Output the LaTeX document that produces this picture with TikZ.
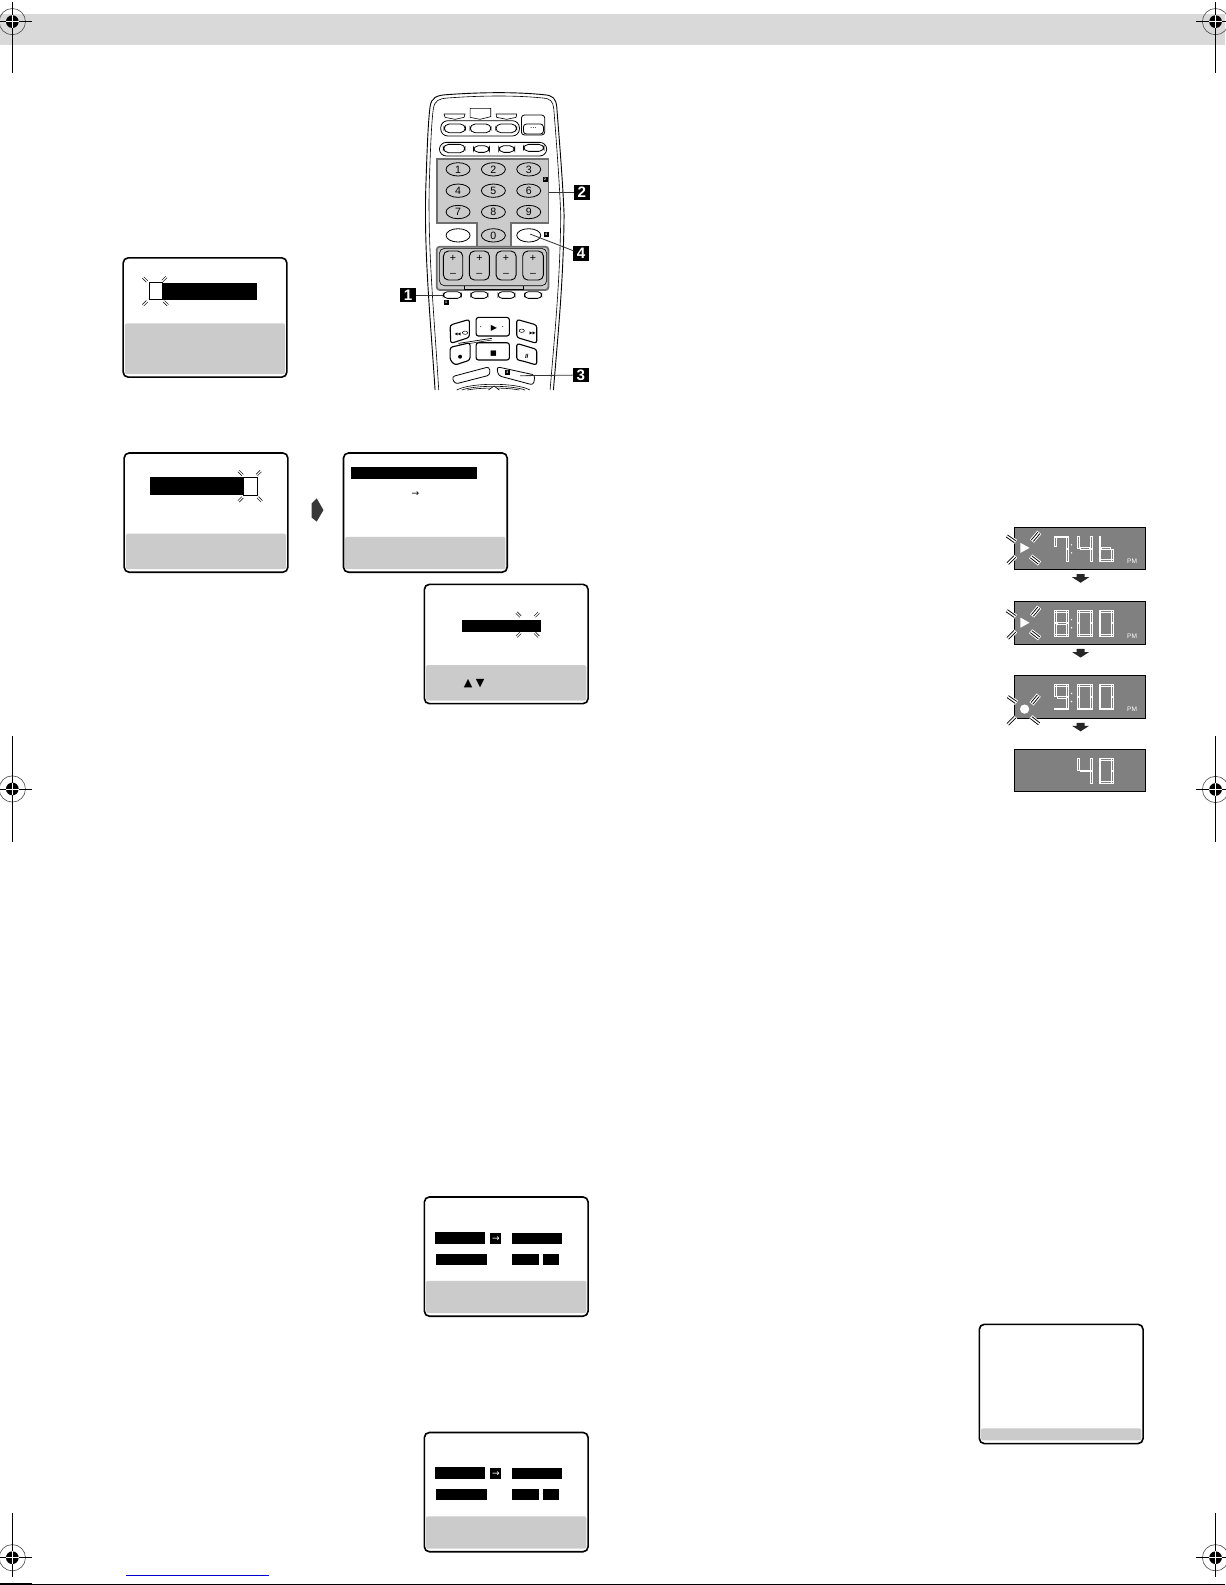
\documentclass[tikz,border=0pt]{standalone}
\usepackage{fontspec}
\setmainfont{Liberation Sans}
\newfontfamily\djv{DejaVu Sans}
\usetikzlibrary{calc}
\definecolor{band}{HTML}{D9D9D9}
\definecolor{panelgray}{HTML}{CBCBCB}
\definecolor{paneledge}{HTML}{6E6E6E}
\definecolor{lcdgray}{HTML}{808080}
\definecolor{linkblue}{HTML}{0000CC}
\tikzset{
  screenbox/.style={draw=black,line width=1.6pt,rounded corners=5pt},
  graypart/.style={fill=panelgray,rounded corners=2pt},
  barblk/.style={fill=black},
  whitesq/.style={draw=black,line width=1pt,fill=white},
  tickline/.style={line width=.6pt,black!85},
  lcdbox/.style={draw=black,line width=.9pt,fill=lcdgray},
  segline/.style={draw=white,line width=.4pt},
  rbtn/.style={draw=black,line width=.8pt,fill=white,rounded corners=3pt},
  rbtnfree/.style={draw=black,line width=.8pt,rounded corners=3pt},
  rkey/.style={draw=black,line width=.8pt,fill=white},
  tbtn/.style={draw=black,line width=1.1pt,fill=white,rounded corners=2.5pt},
  panelfill/.style={fill=panelgray,draw=paneledge,line width=1.8pt},
  keytext/.style={font=\fontsize{10.5}{11}\selectfont,inner sep=0pt},
  bigbadge/.style={fill=black,text=white,font=\bfseries\fontsize{15}{15}\selectfont,minimum width=15.5pt,minimum height=14.5pt,inner sep=0pt},
  tinybadge/.style={fill=black,text=white,font=\bfseries\fontsize{3.5}{4}\selectfont,minimum width=5pt,minimum height=5pt,inner sep=0pt},
  leader/.style={line width=.8pt,black!80},
  pmtext/.style={text=white,font=\fontsize{6.5}{7}\selectfont,inner sep=0pt},
}
\newcommand\regfull[6]{%
  \fill[black] (#1,#2) circle[radius=6.3];
  \draw[line width=.6pt,black!70] (#1,#2) circle[radius=13];
  \draw[line width=.9pt,black] (#3,#2) -- (#4,#2);
  \draw[line width=.9pt,black] (#1,#5) -- (#1,#6);
  \draw[line width=.6pt,white] ({#1-6.3},#2) -- ({#1+6.3},#2);
  \draw[line width=.6pt,white] (#1,{#2-6.3}) -- (#1,{#2+6.3});
}
\newcommand\tvscreen[5]{% name x y graytop graybottom
  \fill[graypart] ({#2+1.5},#4) rectangle ({#2+160},#5);
  \node[screenbox,minimum width=162pt,minimum height=118pt,inner sep=0pt,anchor=north west] (#1) at ({#2-1},{#3-.7}) {};
}
\newcommand\tick[3]{%
  \begin{scope}[shift={(#1,#2)},rotate=#3]
    \draw[tickline] (-2.8,-1) -- (2.8,-1);
    \draw[tickline] (-2.8,1) -- (2.8,1);
  \end{scope}
}
\newcommand\lcdtick[3]{%
  \begin{scope}[shift={(#1,#2)},rotate=#3]
    \draw[line width=5.2pt,white] (-5.6,0) -- (5.6,0);
    \draw[line width=3.2pt,black] (-5,0) -- (5,0);
    \draw[line width=1.4pt,white] (-5.4,0) -- (5.4,0);
  \end{scope}
}
\def\dgseven{0/0/14/1.8,12.2/0/14/12,12.2/13/14/25,0/0/1.8/10}
\def\dgfour{0/0/1.8/12,2.5/11.7/11.5/13.3,12.2/0/14/12,12.2/13/14/25}
\def\dgb{0/0/1.8/12,2.5/11.7/11.5/13.3,12.2/13/14/25,0/23.2/14/25,0/13/1.8/25}
\def\dgeight{0/0/14/1.8,12.2/0/14/12,12.2/13/14/25,0/23.2/14/25,0/13/1.8/25,0/0/1.8/12,2.5/11.7/11.5/13.3}
\def\dgzero{0/0/14/1.8,12.2/0/14/12,12.2/13/14/25,0/23.2/14/25,0/13/1.8/25,0/0/1.8/12}
\def\dgnine{0/0/14/1.8,12.2/0/14/12,12.2/13/14/25,0/23.2/14/25,0/0/1.8/12,2.5/11.7/11.5/13.3}
\newcommand\lcddigit[3]{% x y list
  \begin{scope}[shift={(#1,#2)}]
    \foreach \ax/\ay/\bx/\by in #3 {\draw[segline] (\ax,\ay) rectangle (\bx,\by);}
  \end{scope}
}
\newcommand\lcdtime[6]{% name x y d1 d2 d3
  \node[lcdbox,minimum width=129pt,minimum height=42pt,inner sep=0pt,anchor=north west] (#1) at ({#2-.5},#3) {};
  \lcddigit{#2+39}{#3+9}{#4}
  \fill[white] ({#2+56},{#3+18}) circle[radius=.8];
  \fill[white] ({#2+56},{#3+26}) circle[radius=.8];
  \lcddigit{#2+62}{#3+9}{#5}
  \lcddigit{#2+83}{#3+9}{#6}
  \node[pmtext] at ({#2+116},{#3+34}) {PM};
}
\newcommand\playsparks[2]{%
  \fill[white] ({#1+5.5},{#2+16}) -- ({#1+14.5},{#2+21}) -- ({#1+5.5},{#2+26}) -- cycle;
  \lcdtick{#1-4}{#2+12}{-35}
  \lcdtick{#1+20.5}{#2+10}{50}
  \lcdtick{#1-3.5}{#2+33}{45}
  \lcdtick{#1+20}{#2+33}{-38}
}
\newcommand\lcdarrow[2]{%
  \fill[black!85] ({#1-4},#2) -- ({#1+4},#2) -- ({#1+4},{#2+3}) -- ({#1+8.5},{#2+3}) -- (#1,{#2+8.5}) -- ({#1-8.5},{#2+3}) -- ({#1-4},{#2+3}) -- cycle;
}
\newcommand\dualrows[1]{% y offset
  \fill[barblk] (430,{#1+1219}) rectangle (480,{#1+1230.5});
  \node[fill=black,text=white,inner sep=0pt,minimum width=11pt,minimum height=11pt,font=\djv\fontsize{9}{9}\selectfont] at (490.5,{#1+1225.5}) {→};
  \fill[barblk] (506.5,{#1+1220}) rectangle (556,{#1+1230.5});
  \fill[barblk] (431,{#1+1241}) rectangle (482,{#1+1251.5});
  \fill[barblk] (506.5,{#1+1241}) rectangle (533.5,{#1+1251.5});
  \fill[barblk] (537,{#1+1241}) rectangle (553,{#1+1251.5});
}
\begin{document}
\begin{tikzpicture}[x=1pt,y=-1pt]
\useasboundingbox (0,0) rectangle (1212,1568);
\fill[white] (0,0) rectangle (1212,1568);
% header band
\fill[band] (0,13.9) rectangle (1212,44.5);
% registration marks
\regfull{12.2}{21.4}{-1}{32}{2}{72}
\regfull{1202.5}{21.4}{1183}{1213}{2}{72}
\regfull{12.2}{780.5}{-1}{32}{728}{833}
\regfull{1202.5}{781}{1183}{1213}{728}{833}
\regfull{12.2}{1541}{-1}{32}{1497}{1560}
\regfull{1202.5}{1541}{1183}{1213}{1497}{1560}
% footer
\draw[line width=.8pt,black] (0,1567) -- (1212,1567);
\draw[line width=1.6pt,black] (0,1566.6) -- (32,1566.6);
\draw[line width=.9pt,linkblue] (125,1558.4) -- (266,1558.4);

% ---- screen 1
\tvscreen{sa}{122}{255}{320}{370}
\fill[barblk] (160,280.3) rectangle (254,296.8);
\draw[whitesq] (147.7,279.3) rectangle (161,296.5);
\tick{143.5}{276.5}{-45}\tick{162.6}{276}{45}\tick{143.5}{300}{45}\tick{164}{300}{-45}
% ---- screen 2
\tvscreen{sb}{123}{448}{528}{563}
\fill[barblk] (148,472) rectangle (241,490);
\draw[whitesq] (241,472) rectangle (254.5,490);
\tick{238}{468}{-45}\tick{256}{468}{45}\tick{238}{494}{45}\tick{257}{494}{-45}
% arrow between
\fill[black!78] (308.3,498) -- (313.3,493) -- (320,504.6) -- (313.3,516) -- (308.3,512) -- cycle;
% ---- screen 3
\tvscreen{sc}{340}{448}{531}{563}
\fill[barblk] (347,462) rectangle (472,473.5);
\node[inner sep=0pt,font=\djv\fontsize{9}{9}\selectfont] (scarrow) at (411,488.5) {→};
% ---- screen 4
\tvscreen{sd}{420}{578}{658}{693}
\fill[barblk] (457,613) rectangle (535,625);
\tick{513}{608}{-45}\tick{531}{608}{45}\tick{513}{628}{45}\tick{531}{628}{-45}
\node[inner sep=0pt,font=\djv\fontsize{11}{11}\selectfont] (sdup) at (463,676) {▲};
\node[inner sep=0pt,font=\djv\fontsize{11}{11}\selectfont] (sddn) at (475,676) {▼};
% ---- screen 5, 6
\tvscreen{se}{420}{1184}{1267}{1299}
\dualrows{0}
\tvscreen{sf}{420}{1417}{1500}{1532}
\dualrows{232.5}
% ---- screen 7
\tvscreen{sg}{969}{1310}{1413}{1425}

% ---- LCDs
\lcdtime{la}{1004}{521}{\dgseven}{\dgfour}{\dgb}
\playsparks{1004}{521}
\lcdarrow{1069}{568}
\lcdtime{lb}{1004}{595}{\dgeight}{\dgzero}{\dgzero}
\playsparks{1004}{595}
\lcdarrow{1069}{642}
\lcdtime{lc}{1004}{668}{\dgnine}{\dgzero}{\dgzero}
\fill[white] (1013.6,701.5) circle[radius=4.6];
\lcdtick{1001}{692}{-35}
\lcdtick{1024}{692}{50}
\lcdtick{1000.5}{713}{45}
\lcdtick{1024}{713}{-38}
\lcdarrow{1069}{715}
\node[lcdbox,minimum width=129pt,minimum height=42pt,inner sep=0pt,anchor=north west] (ld) at (1003.5,741) {};
\lcddigit{1066}{750}{\dgfour}
\lcddigit{1087}{750}{\dgzero}

% ---- remote control (coordinates of a 3x crop)
\begin{scope}[shift={(385.87,79.15)},scale=0.3298]
  % body outline
  \draw[line width=.9pt] (135,930) .. controls (120,700) and (100,500) .. (108,300)
     .. controls (112,180) and (115,120) .. (120,80)
     .. controls (124,52) and (140,46) .. (170,44)
     .. controls (280,36) and (380,36) .. (460,44)
     .. controls (490,46) and (497,56) .. (500,80)
     .. controls (506,160) and (518,300) .. (522,405)
     .. controls (520,600) and (505,750) .. (490,930);
  \draw[line width=.6pt] (146,930) .. controls (132,700) and (112,500) .. (118,300)
     .. controls (122,180) and (125,120) .. (130,85)
     .. controls (134,62) and (146,56) .. (172,54)
     .. controls (280,46) and (380,46) .. (458,54)
     .. controls (482,56) and (488,64) .. (491,85)
     .. controls (497,160) and (508,300) .. (512,405)
     .. controls (510,600) and (495,750) .. (480,930);
  % top shapes
  \draw[line width=.6pt] (162,102) -- (225,102) -- (222,112) -- (195,118) -- (165,112) -- cycle;
  \draw[line width=.6pt] (240,85) -- (302,85) -- (302,110) -- (270,118) -- (240,112) -- cycle;
  \draw[line width=.6pt] (318,102) -- (380,102) -- (378,112) -- (350,118) -- (320,112) -- cycle;
  \draw[rbtnfree,rounded corners=7pt] (152,122) rectangle (388,168);
  \draw[rbtn,rounded corners=5pt] (162,132) rectangle (226,158);
  \draw[rbtn,rounded corners=5pt] (240,132) rectangle (303,158);
  \draw[rbtn,rounded corners=5pt] (317,132) rectangle (380,158);
  \draw[rbtnfree] (394,105) rectangle (464,165);
  \draw[rbtn] (400,132) rectangle (460,162);
  \node[inner sep=0pt,font=\fontsize{8}{8}\selectfont] (dots) at (430,143) {...};
  \draw[rbtnfree,rounded corners=7pt] (148,187) rectangle (470,228);
  \draw[rbtn,rounded corners=5pt] (160,193) rectangle (225,218);
  \draw[rbtn,rounded corners=5pt] (250,197) rectangle (298,217);
  \draw[rbtn,rounded corners=5pt] (326,197) rectangle (374,217);
  \draw[rbtn,rounded corners=5pt] (400,193) rectangle (462,214);
  % number panel
  \draw[panelfill] (142,238) -- (475,238) -- (475,430) -- (362,430) -- (362,500) -- (262,500) -- (262,430) -- (142,430) -- cycle;
  % volume panel
  \draw[panelfill,rounded corners=3pt] (140,500) rectangle (475,630);
  \draw[line width=.6pt,rounded corners=5pt] (148,505) rectangle (470,617);
  \draw[line width=.6pt] (222,617) -- (222,627) -- (400,627) -- (400,617);
  \foreach \xa/\xb in {160/218,238/298,318/378,398/460}{
    \draw[line width=.9pt,fill=panelgray,rounded corners=5pt] (\xa,513) rectangle (\xb,600);
    \node[keytext] at ({(\xa+\xb)/2},535) {+};
    \node[keytext] at ({(\xa+\xb)/2},585) {–};
  }
  % keys
  \foreach \kx/\ky/\kt in {204/268/1,310/268/2,416/268/3,204/332/4,310/332/5,416/332/6,204/396/7,310/396/8,416/396/9,310/466/0}{
    \draw[rkey,fill=panelgray] (\kx,\ky) ellipse[x radius=36,y radius=20];
    \node[keytext] at (\kx,\ky) {\kt};
  }
  \draw[rkey] (204,466) ellipse[x radius=36,y radius=20];
  \draw[rkey] (416,466) ellipse[x radius=36,y radius=20];
  % row below the volume panel
  \draw[rbtn,rounded corners=4pt] (160,635) rectangle (214,655);
  \draw[rbtn,rounded corners=4pt] (242,635) rectangle (294,655);
  \draw[rbtn,rounded corners=4pt] (324,635) rectangle (375,655);
  \draw[rbtn,rounded corners=4pt] (403,635) rectangle (455,655);
  % transport
  \draw[tbtn] (180,735) -- (238,718) -- (238,772) -- (182,790) -- cycle;
  \draw[tbtn] (258,712) rectangle (358,768);
  \draw[tbtn] (380,718) -- (440,735) -- (440,790) -- (380,772) -- cycle;
  \draw[line width=.7pt] (205,790) -- (305,775);
  \draw[line width=.5pt] (208,795) -- (305,780);
  \draw[tbtn] (180,802) -- (240,788) -- (240,840) -- (195,855) -- (180,840) -- cycle;
  \draw[tbtn] (258,788) rectangle (358,840);
  \draw[tbtn] (380,790) -- (440,808) -- (440,855) -- (395,842) -- (380,840) -- cycle;
  \node[font=\djv\fontsize{8}{8}\selectfont,inner sep=0pt] (playsym) at (312,745) {▶};
  \fill[black] (272,740) circle[radius=1.5];
  \fill[black] (338,740) circle[radius=1.5];
  \node[font=\djv\fontsize{7}{7}\selectfont,inner sep=0pt] (stopsym) at (310,820) {■};
  \fill[black] (210,830) circle[radius=6];
  \node[font=\bfseries\itshape\fontsize{6}{6}\selectfont,inner sep=0pt] (pausesym) at (410,828) {II};
  \node[font=\djv\fontsize{4}{4}\selectfont,inner sep=0pt] (rewsym) at (203,762) {◀◀};
  \draw[line width=.5pt] (225,758) ellipse[x radius=8,y radius=5];
  \node[font=\djv\fontsize{4}{4}\selectfont,inner sep=0pt] (ffsym) at (428,760) {▶▶};
  \draw[line width=.5pt] (395,752) ellipse[x radius=8,y radius=5];
  % lower keys
  \draw[rbtn] (185,890) -- (298,860) -- (300,885) -- (195,912) -- cycle;
  \draw[rbtn] (320,860) -- (435,885) -- (430,915) -- (325,887) -- cycle;
  \draw[line width=.6pt] (200,930) .. controls (240,907) and (380,907) .. (420,930);
  \draw[line width=.6pt] (215,930) .. controls (255,915) and (365,915) .. (405,930);
  \draw[line width=.6pt] (232,930) .. controls (270,922) and (350,922) .. (388,930);
  \fill[white] (295,930) -- (312,918) -- (328,930) -- cycle;
  \draw[line width=.6pt] (295,930) -- (312,918) -- (328,930);
  % small badges
  \node[tinybadge] (tb2) at (465,298) {2};
  \node[tinybadge] (tb4) at (468,462) {4};
  \node[tinybadge] (tb1) at (168,668) {1};
  \node[tinybadge] (tb3) at (352,877) {3};
  % big badges
  \coordinate (lead1) at (160,645);
  \coordinate (lead2) at (476,337);
  \coordinate (lead3) at (390,887);
  \coordinate (lead4) at (420,462);
  \node[bigbadge] (bd1) at (54,645) {1};
  \node[bigbadge] (bd2) at (575,337) {2};
  \node[bigbadge] (bd3) at (572,885) {3};
  \node[bigbadge] (bd4) at (573,521) {4};
  \draw[leader] (bd1) -- (lead1);
  \draw[leader] (bd2) -- (lead2);
  \draw[leader] (bd3) -- (lead3);
  \draw[leader] (bd4) -- (lead4);
\end{scope}
\end{tikzpicture}
\end{document}
